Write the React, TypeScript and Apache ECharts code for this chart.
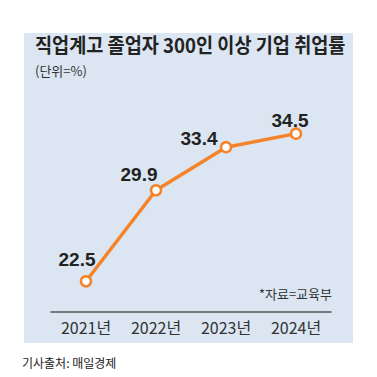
import React, { useEffect, useRef } from "react";
import * as echarts from "echarts";

const categories = ["2021년", "2022년", "2023년", "2024년"];
const rates = [22.5, 29.9, 33.4, 34.5];
const labelOffsets = [
  [-9, -1],
  [-17, 5],
  [-27, 12],
  [-6, 8],
];

const TITLE = "직업계고 졸업자 300인 이상 기업 취업률";
const UNIT = "(단위=%)";
const SOURCE = "*자료=교육부";
const FOOTER = "기사출처: 매일경제";

export default function App() {
  const ref = useRef<HTMLDivElement>(null);
  useEffect(() => {
    const chart = echarts.init(ref.current!, null, { renderer: "svg" });
    chart.setOption({
      animation: false,
      backgroundColor: "#ffffff",
      graphic: [
        {
          type: "rect",
          shape: { x: 24, y: 33, width: 329, height: 310 },
          style: { fill: "#dce6f2" },
          z: -10,
        },
        {
          type: "text",
          x: 35,
          y: 35,
          scaleX: 0.93,
          style: {
            text: TITLE,
            font: 'bold 20px "Noto Sans CJK KR", sans-serif',
            fill: "#222222",
          },
        },
        {
          type: "text",
          x: 35,
          y: 64,
          style: {
            text: UNIT,
            font: '13px "Noto Sans CJK KR", sans-serif',
            fill: "#333333",
          },
        },
        {
          type: "text",
          x: 332,
          y: 287,
          style: {
            text: SOURCE,
            font: '13px "Noto Sans CJK KR", sans-serif',
            fill: "#333333",
            textAlign: "right",
          },
        },
        {
          type: "text",
          x: 22,
          y: 356,
          style: {
            text: FOOTER,
            font: '12px "Noto Sans CJK KR", sans-serif',
            fill: "#222222",
          },
        },
      ],
      grid: { left: 51, right: 46, top: 66, bottom: 65, containLabel: false },
      xAxis: {
        type: "category",
        data: categories,
        boundaryGap: true,
        axisLine: { lineStyle: { color: "#555555", width: 1.5 } },
        axisTick: { inside: true, length: 5, alignWithLabel: true, lineStyle: { color: "#555555", width: 1.2 } },
        axisLabel: {
          color: "#333333",
          fontSize: 16,
          fontFamily: '"Liberation Sans Narrow", "Noto Sans CJK KR", sans-serif',
          margin: 7,
        },
      },
      yAxis: {
        type: "value",
        min: 20,
        max: 40,
        show: false,
        splitLine: { show: false },
      },
      series: [
        {
          type: "line",
          data: rates.map((v, i) => ({
            value: v,
            label: { offset: labelOffsets[i] },
          })),
          lineStyle: { color: "#f5832a", width: 3.5 },
          symbol: "circle",
          symbolSize: 10,
          itemStyle: { color: "#ffffff", borderColor: "#f5832a", borderWidth: 2.5 },
          label: {
            show: true,
            position: "top",
            color: "#222222",
            fontSize: 19,
            fontWeight: "bold",
            fontFamily: '"Liberation Sans Narrow", "Liberation Sans", sans-serif',
          },
        },
      ],
    });
    return () => chart.dispose();
  }, []);
  return (
    <div
      ref={ref}
      style={{ position: "fixed", left: 0, top: 0, width: 377, height: 377 }}
    />
  );
}
